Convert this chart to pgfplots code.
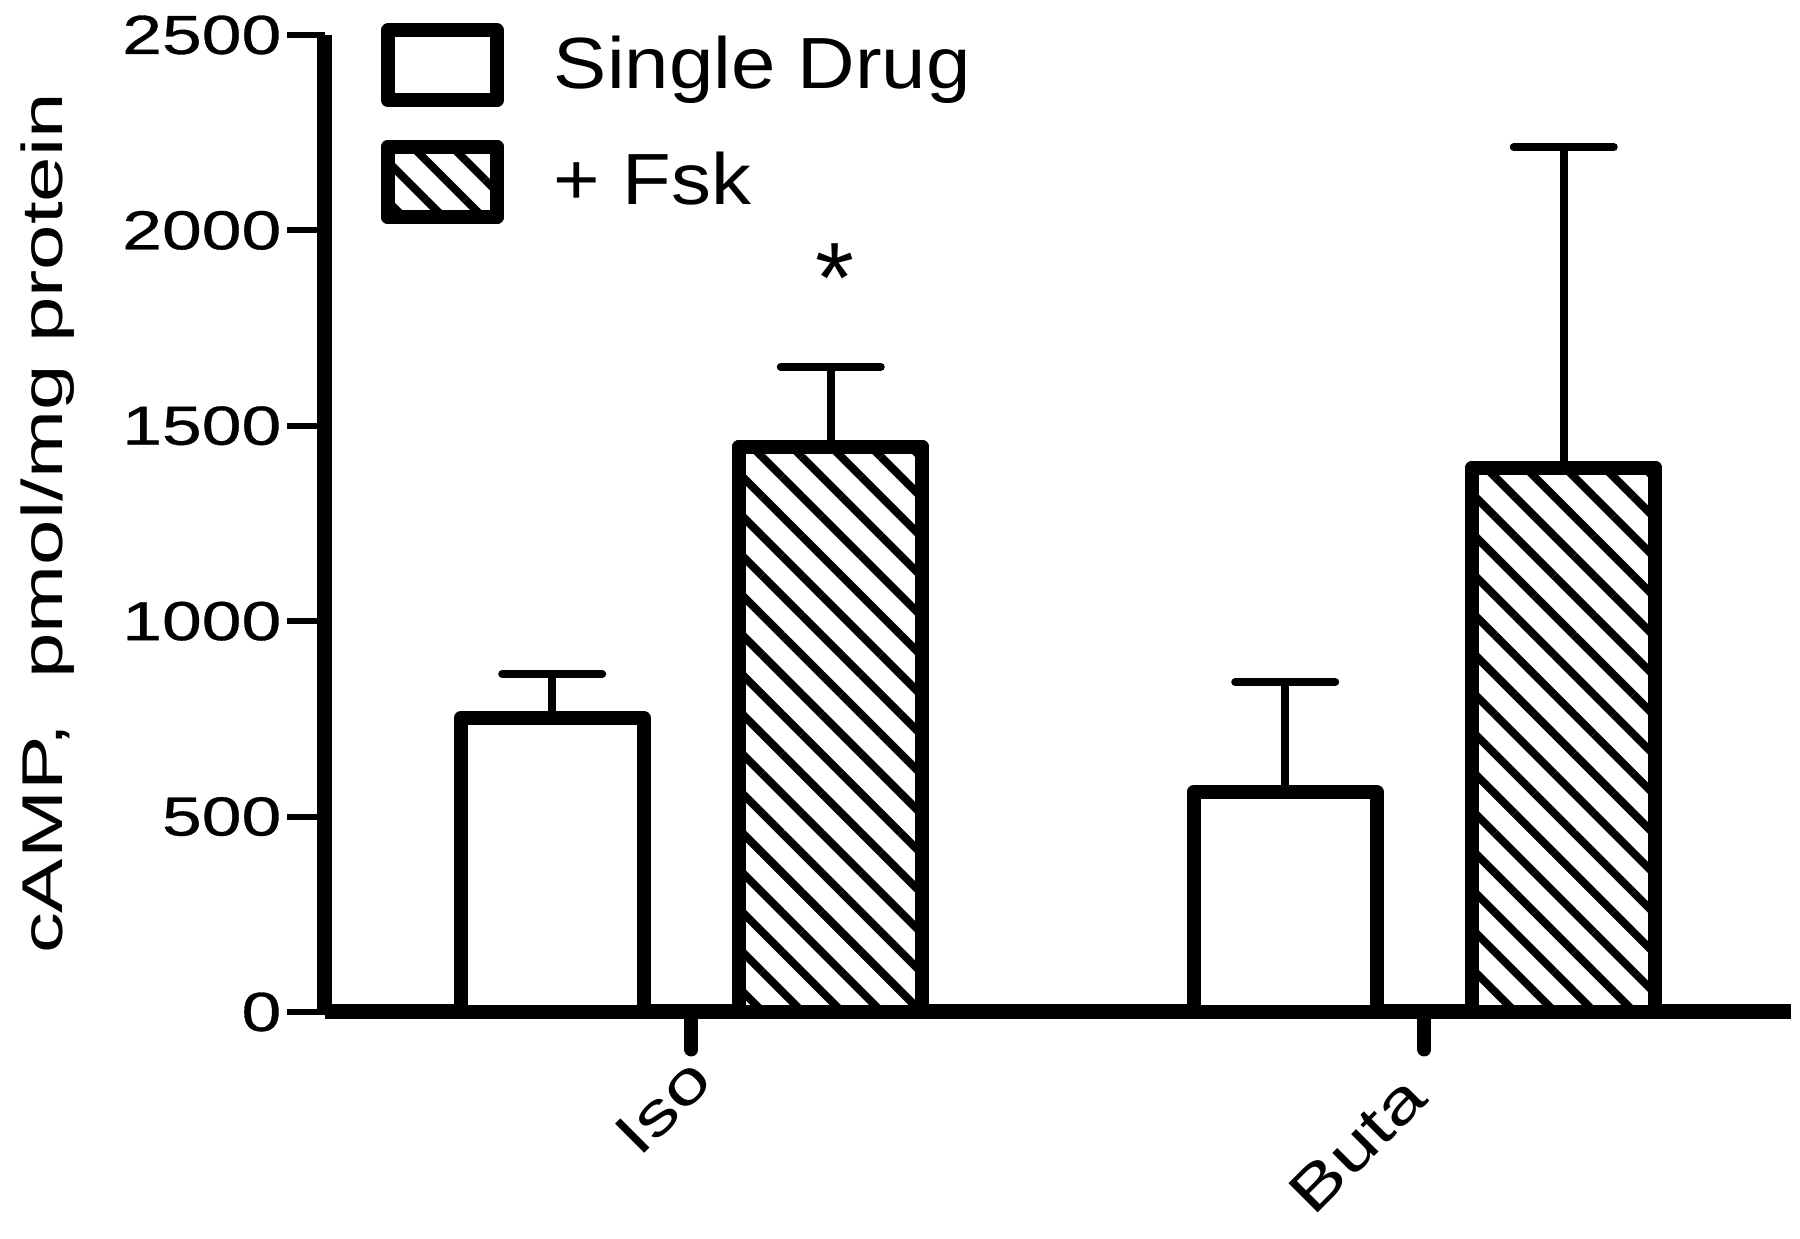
\documentclass[border=0pt]{standalone}
\usepackage{pgfplots}
\pgfplotsset{compat=1.18}
\usetikzlibrary{patterns.meta}
\usepackage{fontspec}
\setmainfont{Liberation Sans}
\newfontfamily\tickfont[FakeStretch=1.3, FakeBold=0.6]{Liberation Sans}
\newfontfamily\labfont[FakeStretch=1.42]{Liberation Sans}
\newfontfamily\xlabfont[FakeStretch=1.33]{Liberation Sans}
\newfontfamily\legfont[FakeStretch=1.1]{Liberation Sans}
\begin{document}
\begin{tikzpicture}
\begin{axis}[
  at={(0,0)}, anchor=south west,
  scale only axis, width=293.2pt, height=195.4pt,
  xmin=0.5, xmax=2.5, ymin=0, ymax=2500,
  axis lines=left,
  axis line style={-, line width=3pt},
  clip=false,
  tick align=outside,
  major tick length=7.5pt,
  xtick={1,2}, xticklabels={Iso,{Buta\rule{5pt}{0pt}}},
  ytick={0,500,1000,1500,2000,2500},
  xtick style={line width=2.8pt, black, line cap=round},
  ytick style={line width=1.2pt, black},
  /pgf/number format/assume math mode=true,
  /pgf/number format/1000 sep={},
  yticklabel style={font=\tickfont\fontsize{11}{13}\selectfont, anchor=east, xshift=2.3pt},
  xticklabel style={font=\xlabfont\fontsize{12}{14}\selectfont, rotate=45, anchor=east, xshift=2pt, yshift=-4pt},
  ylabel={cAMP,\ \ pmol/mg protein},
  ylabel style={font=\labfont\fontsize{11.5}{13}\selectfont, at={(axis description cs:-0.189,0.5)}, anchor=center},
  legend style={at={(axis description cs:0,1)}, anchor=north west, xshift=11pt, yshift=2.5pt, draw=none, fill=none, inner sep=0pt, row sep=6.5pt,
    font=\legfont\fontsize{14.5}{17}\selectfont, nodes={inner sep=2pt}},
  legend cell align=left,
  legend image code/.code={\draw[#1, line width=2.8pt] (0pt,-7pt) rectangle (21.8pt,7pt);},
]
\addplot[ybar, bar width=0.25, bar shift=0, draw=black, fill=white, line width=2.8pt, line join=round,
  error bars/.cd, y dir=plus, y explicit,
  error bar style={line width=1.6pt, black},
  error mark options={rotate=90, mark size=10pt, line width=1.6pt, black, line cap=round}]
  coordinates {(0.81,752) +- (0,113) (1.81,563) +- (0,281)};
\addlegendentry{\hspace{8pt}Single Drug}
\addplot[ybar, bar width=0.25, bar shift=0, draw=black, fill=white,
  postaction={pattern={Lines[angle=-45, distance=5.6pt, line width=1.6pt]}},
  line width=2.8pt, line join=round,
  error bars/.cd, y dir=plus, y explicit,
  error bar style={line width=1.6pt, black},
  error mark options={rotate=90, mark size=10pt, line width=1.6pt, black, line cap=round}]
  coordinates {(1.19,1446) +- (0,205) (2.19,1392) +- (0,821)};
\addlegendentry{\hspace{8pt}+ Fsk}
\node[anchor=base, font=\fontsize{20}{22}\selectfont] at (axis cs:1.196,1790) {*};
\end{axis}
\pgfresetboundingbox
\path[use as bounding box] (-65pt,-45.4pt) rectangle (295pt,202.4pt);
\end{tikzpicture}
\end{document}
